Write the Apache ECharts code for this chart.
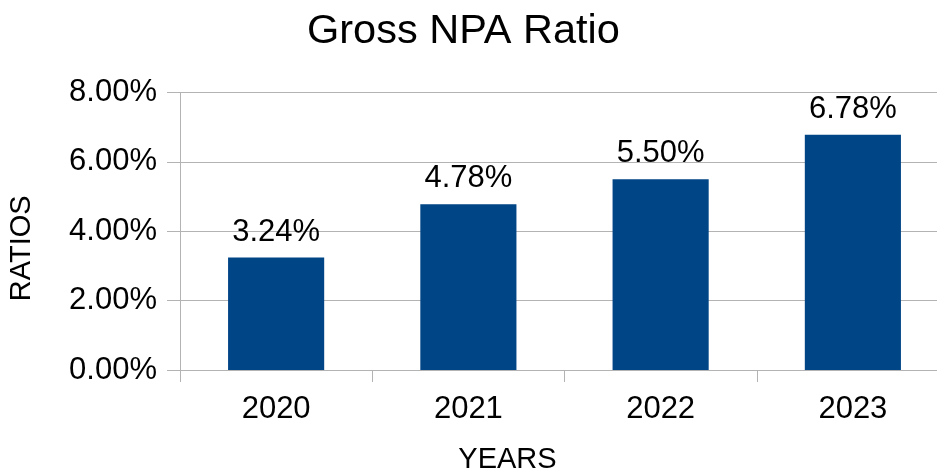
<!DOCTYPE html>
<html>
<head>
<meta charset="utf-8">
<script src="https://cdn.jsdelivr.net/npm/echarts@6/dist/echarts.min.js"></script>
<style>
  html, body { margin: 0; padding: 0; background: #ffffff; }
  #chart { width: 937px; height: 473px; }
</style>
</head>
<body>
<div id="chart"></div>
<script>
// Gross NPA ratio by year
const years = ['2020', '2021', '2022', '2023'];
const grossNpaRatio = [3.24, 4.78, 5.50, 6.78];
const yTicks = [0, 2, 4, 6, 8];

const FONT = '"Liberation Sans", Arial, sans-serif';
const GRID_COLOR = '#b3b3b3';

const chart = echarts.init(document.getElementById('chart'), null, { renderer: 'canvas' });

chart.setOption({
  animation: false,
  backgroundColor: '#ffffff',
  textStyle: { fontFamily: FONT, color: '#000000' },
  title: {
    text: 'Gross NPA Ratio',
    left: 302,
    top: 6,
    padding: 5,
    textStyle: { fontFamily: FONT, fontSize: 41.5, fontWeight: 'normal', color: '#000000' }
  },
  grid: {
    left: 180, right: -12, top: 92.5, bottom: 103,
    containLabel: false,
    outerBoundsMode: 'none'
  },
  xAxis: {
    type: 'category',
    data: years,
    name: 'YEARS',
    nameLocation: 'middle',
    nameGap: 75,
    nameTextStyle: { fontFamily: FONT, fontSize: 29, color: '#000000', padding: [0, 114, 0, 0] },
    axisLine: { show: true, lineStyle: { color: GRID_COLOR, width: 1 } },
    axisTick: { show: true, alignWithLabel: false, length: 12, lineStyle: { color: GRID_COLOR } },
    axisLabel: { fontFamily: FONT, fontSize: 31, color: '#000000', margin: 24 }
  },
  yAxis: {
    type: 'value',
    min: yTicks[0],
    max: yTicks[yTicks.length - 1],
    interval: yTicks[1] - yTicks[0],
    name: 'RATIOS',
    nameLocation: 'middle',
    nameGap: 144,
    nameRotate: 90,
    nameTextStyle: { fontFamily: FONT, fontSize: 29, color: '#000000', padding: [0, 34, 0, 0] },
    axisLine: { show: true, lineStyle: { color: GRID_COLOR, width: 1 } },
    axisTick: { show: true, length: 13, lineStyle: { color: GRID_COLOR } },
    splitLine: { show: true, lineStyle: { color: GRID_COLOR, width: 1 } },
    axisLabel: {
      fontFamily: FONT, fontSize: 31, color: '#000000', margin: 23,
      formatter: v => v.toFixed(2) + '%'
    }
  },
  series: [{
    type: 'bar',
    data: grossNpaRatio,
    barWidth: '50%',
    itemStyle: { color: '#004586' },
    label: {
      show: true,
      position: 'top',
      distance: 10,
      fontFamily: FONT,
      fontSize: 31,
      color: '#000000',
      formatter: p => p.value.toFixed(2) + '%'
    }
  }]
});
</script>
</body>
</html>
